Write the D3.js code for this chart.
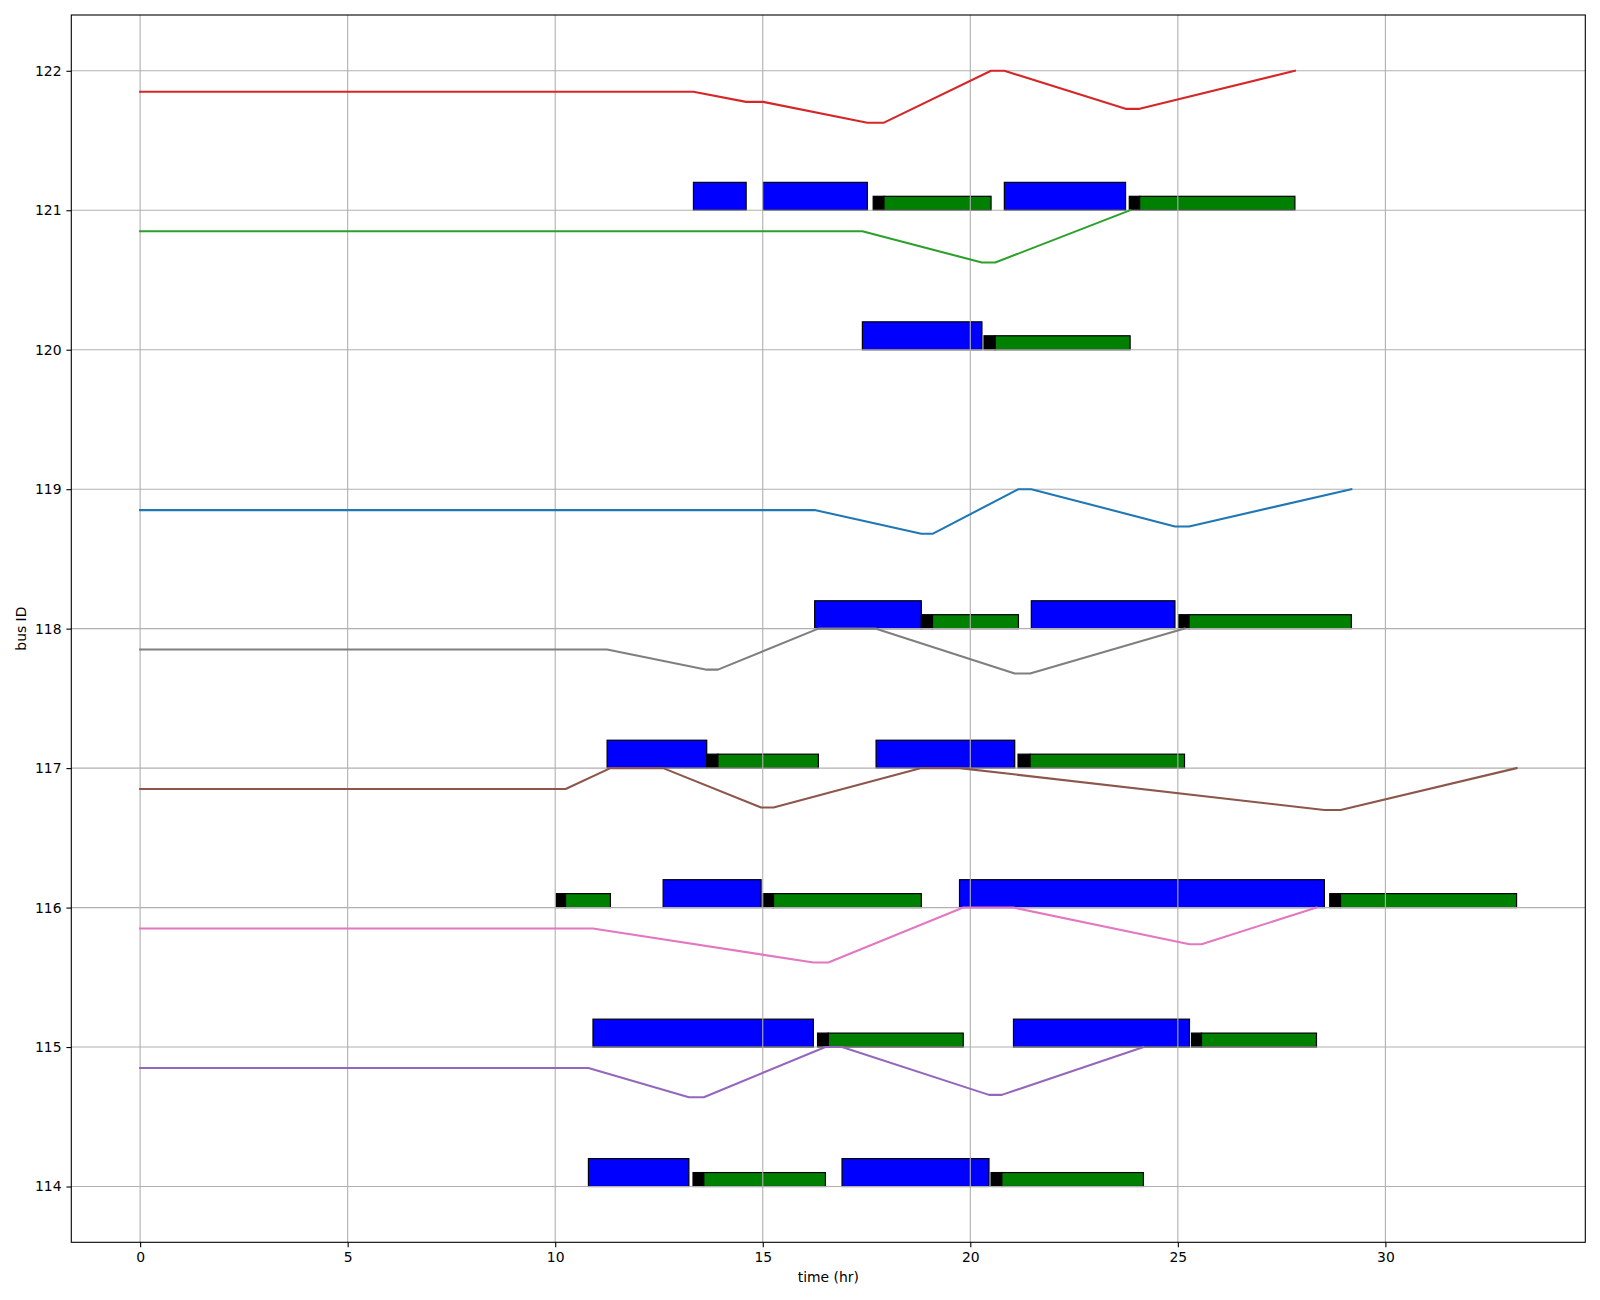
<!DOCTYPE html>
<html>
<head>
<meta charset="utf-8">
<script src="https://cdn.jsdelivr.net/npm/d3@7"></script>
<style>
  html, body { margin: 0; padding: 0; background: #fff; }
  svg { display: block; font-family: "DejaVu Sans", sans-serif; }
</style>
</head>
<body>
<svg id="chart" width="1600" height="1300"></svg>
<script>
// ---- data ----
const xTicks = [0, 5, 10, 15, 20, 25, 30];
const yTicks = [114, 115, 116, 117, 118, 119, 120, 121, 122];

// driving trips (blue): [bus, start, end]
const trips = [
  [121, 13.33, 14.60], [121, 15.01, 17.52], [121, 20.82, 23.74],
  [120, 17.40, 20.28],
  [118, 16.25, 18.82], [118, 21.47, 24.93],
  [117, 11.25, 13.65], [117, 17.73, 21.07],
  [116, 12.60, 14.96], [116, 19.74, 28.53],
  [115, 10.91, 16.22], [115, 21.04, 25.28],
  [114, 10.80, 13.22], [114, 16.91, 20.45]
];

// charging: [bus, plug-in start (black), charge start (green), charge end]
const charges = [
  [121, 17.66, 17.92, 20.50], [121, 23.83, 24.08, 27.82],
  [120, 20.33, 20.60, 23.85],
  [118, 18.82, 19.09, 21.16], [118, 25.02, 25.27, 29.18],
  [117, 13.65, 13.92, 16.34], [117, 21.15, 21.44, 25.16],
  [116, 10.02, 10.25, 11.33], [116, 15.00, 15.26, 18.82], [116, 28.66, 28.92, 33.16],
  [115, 16.32, 16.58, 19.83], [115, 25.33, 25.57, 28.34],
  [114, 13.32, 13.58, 16.51], [114, 20.50, 20.76, 24.17]
];

// state-of-charge traces, drawn at bus + soc
const socBus    = [121, 120, 118, 117, 116, 115, 114];
const socColors = ["#d62728", "#2ca02c", "#1f77b4", "#7f7f7f", "#8c564b", "#e377c2", "#9467bd"];
const socTimes = [
  [0, 13.33, 14.60, 15.01, 17.52, 17.92, 20.50, 20.82, 23.74, 24.08, 27.82],
  [0, 17.40, 20.28, 20.60, 23.85],
  [0, 16.25, 18.82, 19.09, 21.16, 21.47, 24.93, 25.27, 29.18],
  [0, 11.25, 13.65, 13.92, 16.34, 17.73, 21.07, 21.44, 25.16],
  [0, 10.25, 11.33, 12.60, 14.96, 15.26, 18.82, 19.74, 28.53, 28.92, 33.16],
  [0, 10.91, 16.22, 16.58, 19.83, 21.04, 25.28, 25.57, 28.34],
  [0, 10.80, 13.22, 13.58, 16.51, 16.91, 20.45, 20.76, 24.17]
];
const socValues = [
  [0.85, 0.85, 0.777, 0.777, 0.628, 0.628, 1.0, 1.0, 0.727, 0.727, 1.0],
  [0.85, 0.85, 0.625, 0.625, 1.0],
  [0.85, 0.85, 0.68, 0.68, 1.0, 1.0, 0.733, 0.733, 1.0],
  [0.85, 0.85, 0.706, 0.706, 1.0, 1.0, 0.678, 0.678, 1.0],
  [0.85, 0.85, 1.0, 1.0, 0.718, 0.718, 1.0, 1.0, 0.70, 0.70, 1.0],
  [0.85, 0.85, 0.606, 0.606, 1.0, 1.0, 0.737, 0.737, 1.0],
  [0.85, 0.85, 0.64, 0.64, 1.0, 1.0, 0.657, 0.657, 1.0]
];

const tripHeight = 0.2;
const chargeHeight = 0.1;

// ---- layout ----
const L = 71.3, T = 15, R = 1585.3, B = 1242.3;
const x = d3.scaleLinear().domain([-1.658, 34.816]).range([L, R]);
const y = d3.scaleLinear().domain([113.6, 122.4]).range([B, T]);

const svg = d3.select("#chart");
const plot = svg.append("g");

// bars
plot.selectAll("rect.trip").data(trips).enter().append("rect")
  .attr("class", "trip")
  .attr("x", d => x(d[1])).attr("width", d => x(d[2]) - x(d[1]))
  .attr("y", d => y(d[0] + tripHeight)).attr("height", d => y(d[0]) - y(d[0] + tripHeight))
  .attr("fill", "#0000ff").attr("stroke", "#000").attr("stroke-width", 1.2);

plot.selectAll("rect.plug").data(charges).enter().append("rect")
  .attr("class", "plug")
  .attr("x", d => x(d[1])).attr("width", d => x(d[2]) - x(d[1]))
  .attr("y", d => y(d[0] + chargeHeight)).attr("height", d => y(d[0]) - y(d[0] + chargeHeight))
  .attr("fill", "#000").attr("stroke", "#000").attr("stroke-width", 1.2);

plot.selectAll("rect.charge").data(charges).enter().append("rect")
  .attr("class", "charge")
  .attr("x", d => x(d[2])).attr("width", d => x(d[3]) - x(d[2]))
  .attr("y", d => y(d[0] + chargeHeight)).attr("height", d => y(d[0]) - y(d[0] + chargeHeight))
  .attr("fill", "#008000").attr("stroke", "#000").attr("stroke-width", 1.2);

// grid (above bars, below lines)
const grid = svg.append("g");
grid.selectAll("line.gx").data(xTicks).enter().append("line")
  .attr("x1", d => x(d)).attr("x2", d => x(d)).attr("y1", T).attr("y2", B)
  .attr("stroke", "#b0b0b0").attr("stroke-width", 1.1);
grid.selectAll("line.gy").data(yTicks).enter().append("line")
  .attr("y1", d => y(d)).attr("y2", d => y(d)).attr("x1", L).attr("x2", R)
  .attr("stroke", "#b0b0b0").attr("stroke-width", 1.1);

// SOC lines
const lineGen = d3.line().x(p => x(p[0])).y(p => y(p[1]));
socBus.forEach((bus, i) => {
  const pts = socTimes[i].map((t, j) => [t, bus + socValues[i][j]]);
  svg.append("path").datum(pts).attr("d", lineGen)
    .attr("fill", "none").attr("stroke", socColors[i]).attr("stroke-width", 2.08)
    .attr("stroke-linejoin", "round").attr("stroke-linecap", "square");
});

// axes
const xAxis = d3.axisBottom(x).tickValues(xTicks).tickSize(4.9).tickPadding(4.9).tickFormat(d3.format("d"));
const yAxis = d3.axisLeft(y).tickValues(yTicks).tickSize(4.9).tickPadding(4.9).tickFormat(d3.format("d"));
const gx = svg.append("g").attr("transform", `translate(0,${B})`).call(xAxis);
const gy = svg.append("g").attr("transform", `translate(${L},0)`).call(yAxis);
[gx, gy].forEach(g => {
  g.select(".domain").remove();
  g.selectAll(".tick line").attr("stroke", "#000").attr("stroke-width", 1.1);
  g.selectAll(".tick text").attr("fill", "#000").style("font-size", "13.9px").style("font-family", "DejaVu Sans");
});

// frame
svg.append("rect").attr("x", L).attr("y", T).attr("width", R - L).attr("height", B - T)
  .attr("fill", "none").attr("stroke", "#000").attr("stroke-width", 1.1);

// labels
svg.append("text").attr("x", (L + R) / 2).attr("y", 1282).attr("text-anchor", "middle")
  .style("font-size", "13.9px").text("time (hr)");
svg.append("text").attr("transform", `translate(25.5,${(T + B) / 2}) rotate(-90)`)
  .attr("text-anchor", "middle").style("font-size", "13.9px").text("bus ID");
</script>
</body>
</html>
